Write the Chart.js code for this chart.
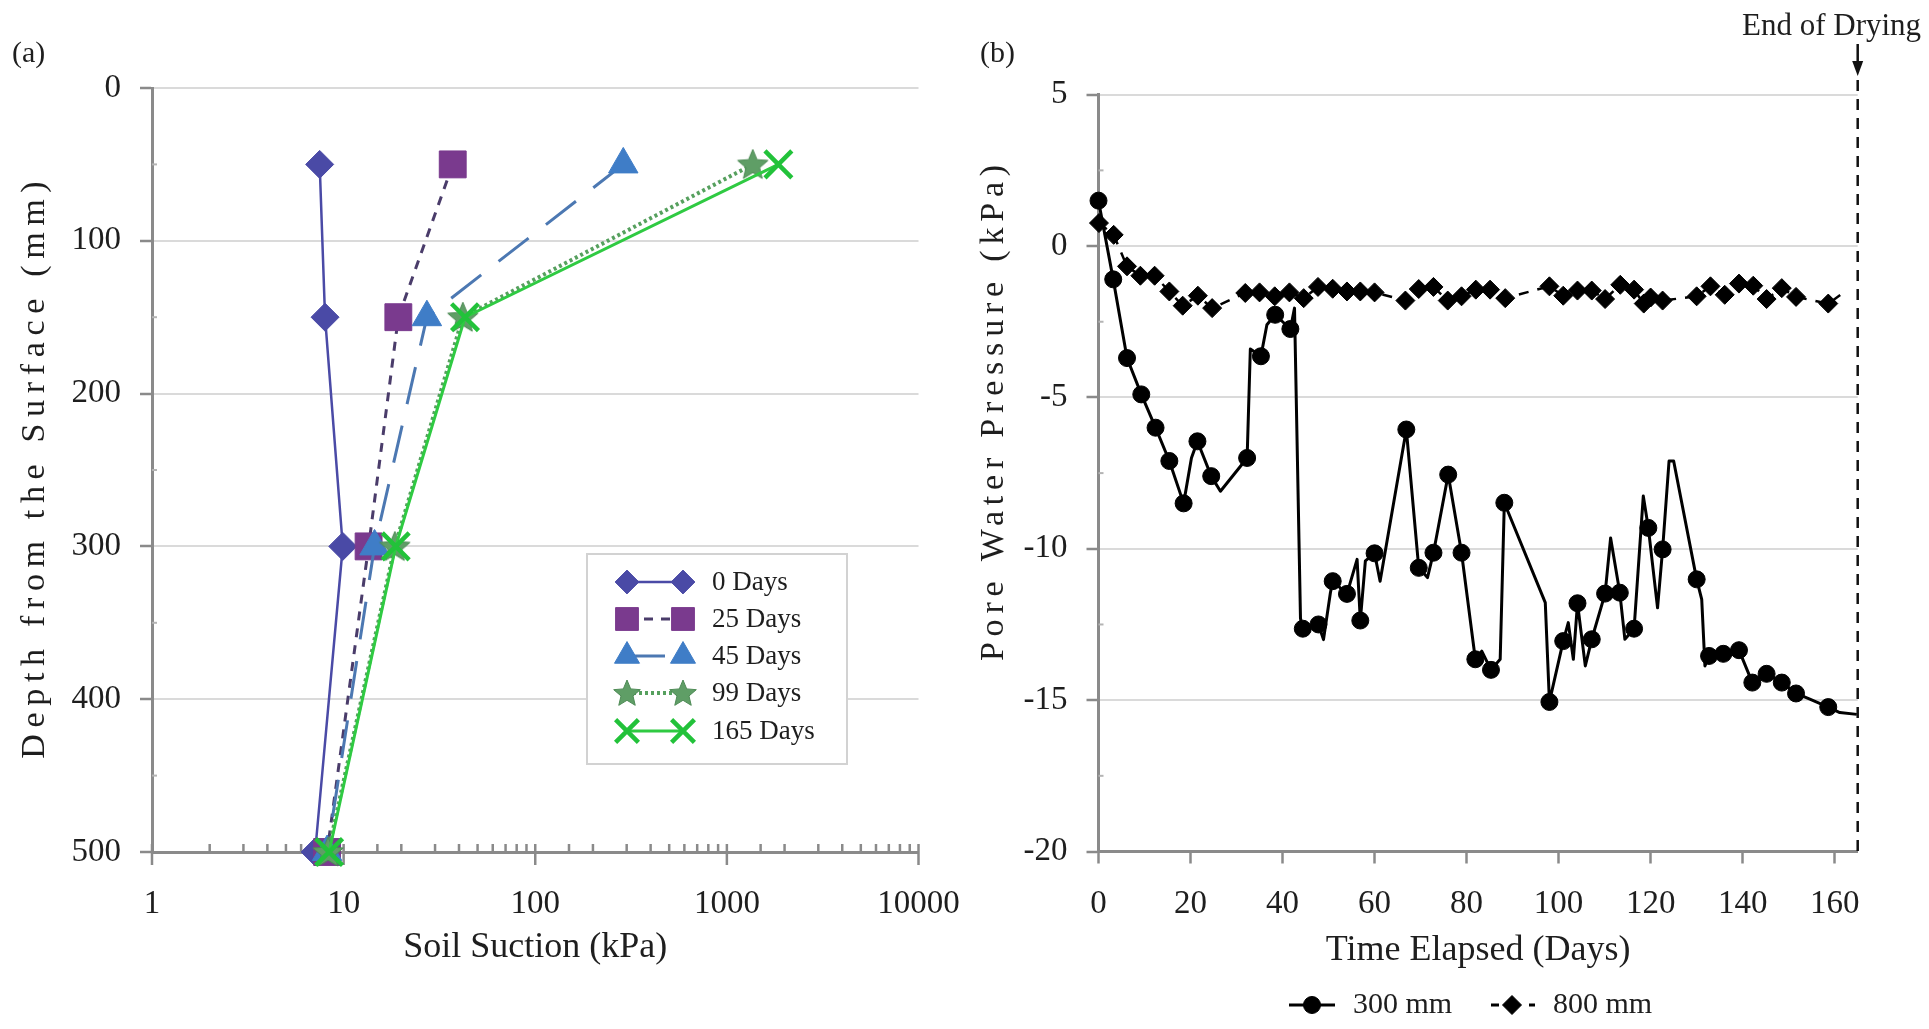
<!DOCTYPE html>
<html><head><meta charset="utf-8">
<script src="https://cdn.jsdelivr.net/npm/chart.js@4.4.1/dist/chart.umd.min.js"></script>
<style>
html,body{margin:0;padding:0;background:#fff;width:1929px;height:1029px;overflow:hidden}
#wrapA{position:absolute;left:0;top:0;width:964px;height:1029px}
#wrapB{position:absolute;left:964px;top:0;width:965px;height:1029px}
canvas{display:block}
</style></head><body>
<div id="wrapA"><canvas id="chartA" width="964" height="1029"></canvas></div>
<div id="wrapB"><canvas id="chartB" width="965" height="1029"></canvas></div>
<script>
// ---------------- Panel (a) data ----------------
const depthsMm = [50, 150, 300, 500];
const suctionDay0 = [7.5, 8.0, 9.9, 7.1];
const suctionDay25 = [37.1, 19.3, 13.5, 8.2];
const suctionDay45 = [288, 27.2, 14.5, 8.2];
const suctionDay99 = [1365, 41.9, 18.5, 8.3];
const suctionDay165 = [1857, 43.0, 18.7, 8.4];
const profileLabels = ['0 Days', '25 Days', '45 Days', '99 Days', '165 Days'];
const suctionTickValues = [1, 10, 100, 1000, 10000];
const suctionTickLabels = ['1', '10', '100', '1000', '10000'];
const depthTickValues = [0, 100, 200, 300, 400, 500];
const depthTickLabels = ['0', '100', '200', '300', '400', '500'];
const depthMinorTicks = [50, 150, 250, 350, 450];

// ---------------- Panel (b) data ----------------
const days300 = [0, 3.2, 6.2, 9.3, 12.4, 15.4, 18.5, 20.2, 21.5, 24.5, 26.5, 32.3, 33.0, 35.3, 36.6, 38.4, 41.7, 42.6, 43.9, 44.4, 47.8, 48.9, 50.4, 50.9, 54.0, 56.2, 56.9, 58.0, 60.0, 61.2, 66.9, 69.6, 71.5, 72.8, 73.9, 76.0, 78.9, 81.9, 83.3, 85.3, 87.3, 88.2, 97.1, 98.0, 101.0, 102.1, 103.2, 104.1, 105.8, 107.2, 110.1, 111.3, 113.3, 114.4, 116.4, 118.4, 119.5, 121.5, 122.6, 124.0, 125.0, 130.0, 131.1, 131.8, 132.7, 135.8, 139.2, 142.1, 145.2, 148.5, 151.6, 154.6, 158.6, 161.1, 164.8];
const pwp300 = [1.5, -1.1, -3.7, -4.9, -6.0, -7.1, -8.5, -7.0, -6.45, -7.6, -8.1, -7.0, -3.4, -3.64, -2.6, -2.27, -2.74, -2.05, -12.3, -12.64, -12.5, -13.0, -11.45, -11.07, -11.49, -10.35, -12.37, -10.4, -10.15, -11.07, -6.06, -10.63, -10.95, -10.13, -9.25, -7.55, -10.13, -13.65, -13.38, -14.0, -13.65, -8.48, -11.78, -15.06, -13.05, -12.44, -13.65, -11.8, -13.87, -12.99, -11.48, -9.64, -11.45, -12.99, -12.64, -8.26, -9.31, -11.95, -10.02, -7.1, -7.1, -11.01, -11.67, -13.87, -13.54, -13.47, -13.35, -14.42, -14.13, -14.42, -14.78, -14.97, -15.23, -15.41, -15.47];
const marked300 = [1,1,1,1,1,1,1,0,1,1, 0,1,0,1,0,1,1,0,0,1, 1,0,0,1,1,0,1,0,1,0, 1,1,0,1,0,1,1,1,0,1, 0,1,0,1,1,0,0,1,0,1, 1,0,1,0,1,0,1,0,1,0, 0,1,0,0,1,1,1,1,1,1, 1,0,1,0,0];
const days800 = [0.1, 3.3, 6.2, 9.1, 12.2, 15.4, 18.3, 21.6, 24.7, 31.9, 35.0, 38.3, 41.5, 44.6, 47.7, 50.9, 54.0, 56.9, 60.0, 66.7, 69.6, 72.8, 75.9, 78.9, 82.0, 85.1, 88.4, 98.0, 101.0, 104.1, 107.2, 110.1, 113.4, 116.4, 118.5, 120.0, 122.6, 130.0, 133.0, 136.1, 139.2, 142.3, 145.2, 148.5, 151.6, 158.6, 161.2];
const pwp800 = [0.76, 0.37, -0.67, -0.98, -0.98, -1.5, -1.97, -1.64, -2.05, -1.55, -1.53, -1.66, -1.53, -1.72, -1.35, -1.41, -1.5, -1.5, -1.53, -1.8, -1.42, -1.35, -1.8, -1.66, -1.44, -1.44, -1.72, -1.33, -1.64, -1.47, -1.47, -1.75, -1.28, -1.44, -1.9, -1.7, -1.8, -1.66, -1.33, -1.61, -1.24, -1.31, -1.75, -1.39, -1.68, -1.9, -1.62];
const marked800 = [1,1,1,1,1,1,1,1,1,1, 1,1,1,1,1,1,1,1,1,1, 1,1,1,1,1,1,1,1,1,1, 1,1,1,1,1,1,1,1,1,1, 1,1,1,1,1,1,0];
const seriesLabels = ['300 mm', '800 mm'];
const timeTickValues = [0, 20, 40, 60, 80, 100, 120, 140, 160];
const timeTickLabels = ['0', '20', '40', '60', '80', '100', '120', '140', '160'];
const pwpTickValues = [5, 0, -5, -10, -15, -20];
const pwpTickLabels = ['5', '0', '-5', '-10', '-15', '-20'];
const pwpMinorTicks = [2.5, -2.5, -7.5, -12.5, -17.5];
const endOfDryingDay = 165;
const endOfDryingText = 'End of Drying';

// ---------------- helpers ----------------
const FONT = "'Liberation Serif', 'Times New Roman', serif";
const TXT = '#1e1e1e';
const AXIS = '#8a8a8a';
const GRID = '#dadada';
Chart.defaults.font.family = FONT;
Chart.defaults.color = TXT;

function makeStar(size, fill, stroke) {
  const c = document.createElement('canvas');
  c.width = size; c.height = size;
  const g = c.getContext('2d');
  const R = size / 2 - 1, r = R * 0.45, cx = size / 2, cy = size / 2 + 1;
  g.beginPath();
  for (let k = 0; k < 10; k++) {
    const a = -Math.PI / 2 + k * Math.PI / 5;
    const rr = k % 2 ? r : R;
    g.lineTo(cx + rr * Math.cos(a), cy + rr * Math.sin(a));
  }
  g.closePath();
  g.fillStyle = fill; g.fill();
  g.strokeStyle = stroke; g.lineWidth = 1; g.stroke();
  return c;
}
const starBig = makeStar(34, '#5f9e66', '#4d8a55');
const starSmall = makeStar(30, '#5f9e66', '#4d8a55');

function labelFor(values, labels, v) {
  const i = values.findIndex(t => Math.abs(t - v) < 1e-9);
  return i >= 0 ? labels[i] : '';
}

function drawMarker(ctx, style, radius, fill, stroke, bw, x, y) {
  ctx.save();
  ctx.fillStyle = fill; ctx.strokeStyle = stroke; ctx.lineWidth = bw;
  Chart.helpers.drawPoint(ctx, { pointStyle: style, radius: radius, borderWidth: bw, rotation: 0 }, x, y);
  ctx.restore();
}

function drawMinorY(chart, values) {
  const ctx = chart.ctx, ys = chart.scales.y, x0 = chart.chartArea.left;
  ctx.save();
  ctx.strokeStyle = '#b4b4b4'; ctx.lineWidth = 2;
  values.forEach(v => {
    const py = ys.getPixelForValue(v);
    ctx.beginPath(); ctx.moveTo(x0, py); ctx.lineTo(x0 + 5, py); ctx.stroke();
  });
  ctx.restore();
}

function drawSpacedVertical(ctx, text, cx, cy, length, size) {
  ctx.save();
  ctx.font = size + 'px ' + FONT;
  ctx.fillStyle = TXT;
  ctx.textAlign = 'center';
  ctx.textBaseline = 'middle';
  ctx.translate(cx, cy);
  ctx.rotate(-Math.PI / 2);
  const natural = ctx.measureText(text).width;
  const n = [...text].length;
  if ('letterSpacing' in ctx) {
    const sp = Math.max(0, (length - natural) / n);
    ctx.letterSpacing = sp + 'px';
    ctx.fillText(text, sp / 2, 0);
  } else {
    ctx.fillText(text, 0, 0);
  }
  ctx.restore();
}

// ---------------- Chart (a) ----------------
const pts = arr => arr.map((v, i) => ({ x: v, y: depthsMm[i] }));
const profileStyles = [
  { line: '#4a4aa6', width: 2.5, dash: [], style: 'rectRot', r: 14, fill: '#4a4aa6', stroke: '#4a4aa6', bw: 1 },
  { line: '#4a3c6a', width: 3, dash: [9, 8], style: 'rect', r: 19, fill: '#7a3a8e', stroke: '#7a3a8e', bw: 1 },
  { line: '#4c78b2', width: 3, dash: [38, 22], style: 'triangle', r: 17, fill: '#3f7dc7', stroke: '#3f7dc7', bw: 1 },
  { line: '#56a05e', width: 4, dash: [3, 3], style: starBig, legendStyle: starSmall, r: 17, fill: '#5f9e66', stroke: '#5f9e66', bw: 0 },
  { line: '#2fca42', width: 3, dash: [], style: 'crossRot', r: 19, fill: '#22c23a', stroke: '#22c23a', bw: 4.5 }
];
const profileSeries = [suctionDay0, suctionDay25, suctionDay45, suctionDay99, suctionDay165];

const chartAPlugin = {
  id: 'panelA',
  beforeDatasetsDraw(chart) {
    const ctx = chart.ctx, xs = chart.scales.x, y0 = chart.chartArea.bottom;
    ctx.save();
    ctx.strokeStyle = AXIS; ctx.lineWidth = 2.5;
    xs.ticks.forEach(t => {
      const px = xs.getPixelForValue(t.value);
      const major = suctionTickValues.some(v => Math.abs(v - t.value) < 1e-9);
      ctx.beginPath();
      ctx.moveTo(px, y0 - 8);
      ctx.lineTo(px, major ? y0 + 13 : y0);
      ctx.stroke();
    });
    ctx.restore();
    drawMinorY(chart, depthMinorTicks);
  },
  afterDraw(chart) {
    const ctx = chart.ctx;
    ctx.save();
    ctx.font = '30px ' + FONT; ctx.fillStyle = TXT; ctx.textBaseline = 'middle'; ctx.textAlign = 'left';
    ctx.fillText('(a)', 12, 54);
    ctx.restore();
    drawSpacedVertical(ctx, 'Depth from the Surface (mm)', 35, 470, 584, 34);
    // legend box
    ctx.save();
    ctx.fillStyle = '#fff'; ctx.strokeStyle = '#d2d2d2'; ctx.lineWidth = 2;
    ctx.fillRect(587, 554, 260, 210);
    ctx.strokeRect(587, 554, 260, 210);
    const rows = [582, 619, 656, 693, 731];
    profileLabels.forEach((lab, i) => {
      const s = profileStyles[i], y = rows[i];
      ctx.save();
      ctx.strokeStyle = s.line; ctx.lineWidth = s.width; ctx.setLineDash(s.dash);
      ctx.beginPath(); ctx.moveTo(627, y); ctx.lineTo(683, y); ctx.stroke();
      ctx.restore();
      const st = s.legendStyle || s.style;
      [627, 683].forEach(px => drawMarker(ctx, st, s.r * 0.85, s.fill, s.stroke, s.bw, px, y));
      ctx.font = '27px ' + FONT; ctx.fillStyle = TXT; ctx.textBaseline = 'middle'; ctx.textAlign = 'left';
      ctx.fillText(lab, 712, y + 1);
    });
    ctx.restore();
  }
};

new Chart(document.getElementById('chartA'), {
  type: 'scatter',
  data: {
    datasets: profileSeries.map((arr, i) => {
      const s = profileStyles[i];
      return {
        label: profileLabels[i], data: pts(arr), showLine: true,
        borderColor: s.line, borderWidth: s.width, borderDash: s.dash,
        pointStyle: s.style, pointRadius: s.r, pointBackgroundColor: s.fill,
        pointBorderColor: s.stroke, pointBorderWidth: s.bw, clip: false,
        order: profileSeries.length - i, tension: 0
      };
    })
  },
  options: {
    responsive: false, animation: false, events: [],
    layout: { padding: { top: 88, right: 45.5, bottom: 0, left: 0 } },
    plugins: { legend: { display: false }, tooltip: { enabled: false }, title: { display: false } },
    scales: {
      x: {
        type: 'logarithmic', position: 'bottom', min: 1, max: 10000,
        afterFit: s => { s.height = 1029 - 852; },
        grid: { display: true, drawOnChartArea: false, drawTicks: true, tickLength: 33, tickColor: 'rgba(0,0,0,0)' },
        border: { display: true, color: AXIS, width: 3 },
        ticks: { autoSkip: false, maxRotation: 0, padding: 0, font: { size: 33 }, color: TXT,
          callback: v => labelFor(suctionTickValues, suctionTickLabels, v) },
        title: { display: true, text: 'Soil Suction (kPa)', font: { size: 36 }, color: TXT, padding: { top: 0, bottom: 60 } }
      },
      y: {
        type: 'linear', reverse: true, min: 0, max: 500,
        afterFit: s => { s.width = 152; },
        afterBuildTicks: s => { s.ticks = depthTickValues.map(v => ({ value: v })); },
        grid: { color: GRID, lineWidth: 2, drawTicks: true, tickLength: 12, tickColor: AXIS, tickWidth: 2.5 },
        border: { display: true, color: AXIS, width: 3 },
        ticks: { padding: 19, font: { size: 33 }, color: TXT,
          callback: v => labelFor(depthTickValues, depthTickLabels, v) }
      }
    }
  },
  plugins: [chartAPlugin]
});

// ---------------- Chart (b) ----------------
const seriesStyles = [
  { line: '#000', width: 3, dash: [], style: 'circle', r: 8.5, bw: 1 },
  { line: '#000', width: 2.5, dash: [10, 9], style: 'rectRot', r: 9.5, bw: 1 }
];
const chartBPlugin = {
  id: 'panelB',
  beforeDatasetsDraw(chart) {
    drawMinorY(chart, pwpMinorTicks);
  },
  afterDatasetsDraw(chart) {
    const ctx = chart.ctx;
    const x = chart.scales.x.getPixelForValue(endOfDryingDay);
    const bottom = chart.chartArea.bottom;
    ctx.save();
    ctx.strokeStyle = '#111'; ctx.fillStyle = '#111'; ctx.lineWidth = 2.5;
    ctx.setLineDash([11, 8]);
    ctx.beginPath(); ctx.moveTo(x, 80); ctx.lineTo(x, bottom); ctx.stroke();
    ctx.setLineDash([]);
    ctx.beginPath(); ctx.moveTo(x, 44); ctx.lineTo(x, 64); ctx.stroke();
    ctx.beginPath(); ctx.moveTo(x - 5.5, 61); ctx.lineTo(x + 5.5, 61); ctx.lineTo(x, 76); ctx.closePath(); ctx.fill();
    ctx.font = '31px ' + FONT; ctx.fillStyle = TXT; ctx.textBaseline = 'middle'; ctx.textAlign = 'left';
    ctx.fillText(endOfDryingText, 778, 27);
    ctx.restore();
  },
  afterDraw(chart) {
    const ctx = chart.ctx;
    ctx.save();
    ctx.font = '30px ' + FONT; ctx.fillStyle = TXT; ctx.textBaseline = 'middle'; ctx.textAlign = 'left';
    ctx.fillText('(b)', 16, 54);
    ctx.restore();
    drawSpacedVertical(ctx, 'Pore Water Pressure (kPa)', 30, 413, 502, 34);
    // bottom legend
    const y = 1005;
    const items = [{ cx: 348, tx: 389 }, { cx: 548, tx: 589 }];
    seriesLabels.forEach((lab, i) => {
      const s = seriesStyles[i], it = items[i];
      ctx.save();
      ctx.strokeStyle = s.line; ctx.lineWidth = 3; ctx.setLineDash(i === 1 ? [8, 30] : []);
      ctx.lineDashOffset = i === 1 ? -2 : 0;
      ctx.beginPath(); ctx.moveTo(it.cx - 23, y); ctx.lineTo(it.cx + 23, y); ctx.stroke();
      ctx.restore();
      drawMarker(ctx, s.style, s.r, '#000', '#000', 1, it.cx, y);
      ctx.save();
      ctx.font = '30px ' + FONT; ctx.fillStyle = TXT; ctx.textBaseline = 'middle'; ctx.textAlign = 'left';
      ctx.fillText(lab, it.tx, y);
      ctx.restore();
    });
  }
};

const mk = (xs, ys) => xs.map((d, i) => ({ x: d, y: ys[i] }));
new Chart(document.getElementById('chartB'), {
  type: 'scatter',
  data: {
    datasets: [
      { label: seriesLabels[0], data: mk(days300, pwp300), showLine: true,
        borderColor: '#000', borderWidth: 3, borderJoinStyle: 'round',
        pointStyle: 'circle', pointRadius: c => marked300[c.dataIndex] ? 8.5 : 0,
        pointBackgroundColor: '#000', pointBorderColor: '#000', pointBorderWidth: 1, clip: false, tension: 0 },
      { label: seriesLabels[1], data: mk(days800, pwp800), showLine: true,
        borderColor: '#000', borderWidth: 2.5, borderDash: [10, 9],
        pointStyle: 'rectRot', pointRadius: c => marked800[c.dataIndex] ? 9.5 : 0,
        pointBackgroundColor: '#000', pointBorderColor: '#000', pointBorderWidth: 1, clip: false, tension: 0 }
    ]
  },
  options: {
    responsive: false, animation: false, events: [],
    layout: { padding: { top: 94.7, right: 965 - 893.7, bottom: 0, left: 0 } },
    plugins: { legend: { display: false }, tooltip: { enabled: false }, title: { display: false } },
    scales: {
      x: {
        type: 'linear', position: 'bottom', min: 0, max: 165,
        afterFit: s => { s.height = 1029 - 851.5; },
        afterBuildTicks: s => { s.ticks = timeTickValues.map(v => ({ value: v })); },
        grid: { display: true, drawOnChartArea: false, drawTicks: true, tickLength: 12, tickColor: AXIS, tickWidth: 2.5 },
        border: { display: true, color: AXIS, width: 3 },
        ticks: { autoSkip: false, maxRotation: 0, padding: 21, font: { size: 33 }, color: TXT,
          callback: v => labelFor(timeTickValues, timeTickLabels, v) },
        title: { display: true, text: 'Time Elapsed (Days)', font: { size: 36 }, color: TXT, padding: { top: 0, bottom: 57 } }
      },
      y: {
        type: 'linear', min: -20, max: 5,
        afterFit: s => { s.width = 134.5; },
        afterBuildTicks: s => { s.ticks = pwpTickValues.map(v => ({ value: v })); },
        grid: { color: GRID, lineWidth: 2, drawTicks: true, tickLength: 12, tickColor: AXIS, tickWidth: 2.5 },
        border: { display: true, color: AXIS, width: 3 },
        ticks: { padding: 19, font: { size: 33 }, color: TXT,
          callback: v => labelFor(pwpTickValues, pwpTickLabels, v) }
      }
    }
  },
  plugins: [chartBPlugin]
});
</script>
</body></html>
